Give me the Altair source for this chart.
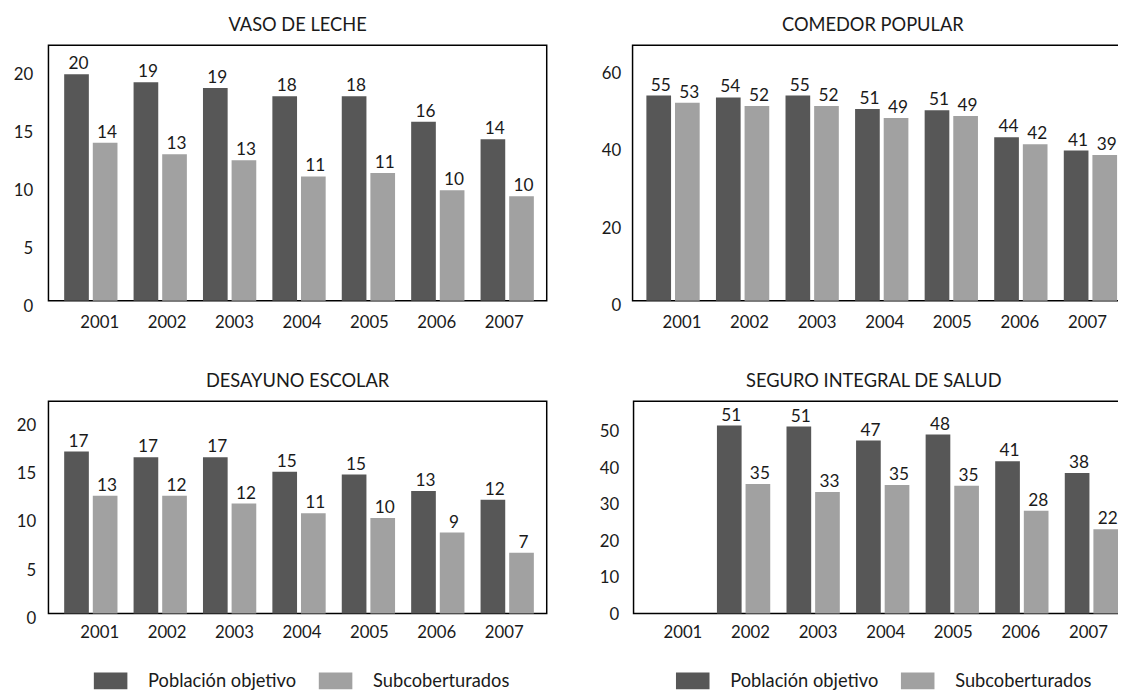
import altair as alt
import pandas as pd

FONT = "Lato"
DARK = "#575757"
LIGHT = "#a1a1a1"
TXT = "#1a1a1a"

years = ["2001", "2002", "2003", "2004", "2005", "2006", "2007"]
series = ["Población objetivo", "Subcoberturados"]

vaso_obj = [19.5, 18.8, 18.3, 17.6, 17.6, 15.4, 13.9]
vaso_sub = [13.6, 12.6, 12.1, 10.7, 11.0, 9.5, 9.0]
vaso_obj_lbl = [20, 19, 19, 18, 18, 16, 14]
vaso_sub_lbl = [14, 13, 13, 11, 11, 10, 10]

com_obj = [53.0, 52.5, 53.0, 49.5, 49.2, 42.2, 38.8]
com_sub = [51.1, 50.3, 50.3, 47.2, 47.7, 40.4, 37.6]
com_obj_lbl = [55, 54, 55, 51, 51, 44, 41]
com_sub_lbl = [53, 52, 52, 49, 49, 42, 39]

des_obj = [16.8, 16.2, 16.2, 14.7, 14.4, 12.7, 11.8]
des_sub = [12.2, 12.2, 11.4, 10.4, 9.9, 8.4, 6.3]
des_obj_lbl = [17, 17, 17, 15, 15, 13, 12]
des_sub_lbl = [13, 12, 12, 11, 10, 9, 7]

sis_obj = [None, 51.4, 51.1, 47.3, 48.9, 41.6, 38.4]
sis_sub = [None, 35.4, 33.2, 35.1, 34.9, 28.1, 23.0]
sis_obj_lbl = [None, 51, 51, 47, 48, 41, 38]
sis_sub_lbl = [None, 35, 33, 35, 35, 28, 22]

vaso_ticks = [0, 5, 10, 15, 20]
com_ticks = [0, 20, 40, 60]
des_ticks = [0, 5, 10, 15, 20]
sis_ticks = [0, 10, 20, 30, 40, 50]


def build_df(obj, sub, obj_lbl, sub_lbl):
    rows = []
    for i, yr in enumerate(years):
        if obj[i] is not None:
            rows.append({"year": yr, "serie": series[0], "value": obj[i], "label": str(obj_lbl[i])})
        if sub[i] is not None:
            rows.append({"year": yr, "serie": series[1], "value": sub[i], "label": str(sub_lbl[i])})
    return pd.DataFrame(rows)


def panel(title, obj, sub, obj_lbl, sub_lbl, ymax, ticks, width, height,
          pin, pout, align, ylab_off, ylab_pad, xlab_pad, title_off, title_dx,
          legend_x=None, legend_y=None):
    df = build_df(obj, sub, obj_lbl, sub_lbl)
    x = alt.X("year:N",
              scale=alt.Scale(domain=years, paddingInner=pin, paddingOuter=pout, align=align),
              axis=alt.Axis(title=None, labelAngle=0, labelPadding=xlab_pad,
                            labelOffset={"expr": "9 - 2*(toNumber(datum.value) - 2001)"}))
    xo = alt.XOffset("serie:N", scale=alt.Scale(domain=series, paddingInner=0.138, paddingOuter=0))
    y = alt.Y("value:Q", scale=alt.Scale(domain=[0, ymax], nice=False, zero=True),
              axis=alt.Axis(title=None, values=ticks, labelOffset=ylab_off, labelPadding=ylab_pad))
    if legend_x is None:
        leg = None
    else:
        leg = alt.Legend(title=None, orient="none", legendX=legend_x, legendY=legend_y,
                         direction="horizontal")
    color = alt.Color("serie:N", scale=alt.Scale(domain=series, range=[DARK, LIGHT]), legend=leg)
    bars = alt.Chart(df).mark_bar().encode(x=x, xOffset=xo, y=y, color=color)
    text = alt.Chart(df).mark_text(baseline="alphabetic", dy=-5, dx=2, fontSize=17.5,
                                   font=FONT, color=TXT).encode(x=x, xOffset=xo, y=y, text="label:N")
    return alt.layer(bars, text).properties(
        width=width, height=height,
        title=alt.TitleParams(title, font=FONT, fontSize=18.5, fontWeight="normal", color=TXT,
                              anchor="middle", frame="group", offset=title_off, dx=title_dx))


LW, RW = 505, 503
TH, BH = 259, 215

p1 = panel("VASO DE LECHE", vaso_obj, vaso_sub, vaso_obj_lbl, vaso_sub_lbl, 22, vaso_ticks,
           LW, TH, 0.232, 0.206, 0.55, 6, 16, 14, 11, 0)
p2 = panel("COMEDOR POPULAR", com_obj, com_sub, com_obj_lbl, com_sub_lbl, 66, com_ticks,
           RW, TH, 0.234, 0.184, 0.54, 5, 12, 14, 11, -8)
p3 = panel("DESAYUNO ESCOLAR", des_obj, des_sub, des_obj_lbl, des_sub_lbl, 22, des_ticks,
           LW, BH, 0.232, 0.206, 0.55, 5, 13, 11, 11, 0, 46, 266)
p4 = panel("SEGURO INTEGRAL DE SALUD", sis_obj, sis_sub, sis_obj_lbl, sis_sub_lbl, 58, sis_ticks,
           RW, BH, 0.234, 0.184, 0.54, 1, 15, 11, 11, -8, 43, 266)

top = alt.hconcat(p1, p2, spacing=53).resolve_scale(color="independent")
bottom = alt.hconcat(p3, p4, spacing=51).resolve_scale(color="independent")

chart = alt.vconcat(top, bottom, spacing=40).resolve_scale(color="independent").properties(
    padding={"top": 2, "left": 4, "right": -13, "bottom": 0}
).configure_view(
    stroke="black", strokeWidth=1.5
).configure_axis(
    domain=False, ticks=False, grid=False, labelFont=FONT, labelFontSize=17, labelColor=TXT
).configure_legend(
    labelFont=FONT, labelFontSize=18.5, labelColor=TXT,
    symbolType="M-1,-0.5L1,-0.5L1,0.5L-1,0.5Z", symbolSize=1156,
    symbolStrokeWidth=0, symbolOpacity=1, labelOffset=21, columnPadding=22
)

chart.save("out.html", embed_options={"renderer": "svg", "actions": False})
